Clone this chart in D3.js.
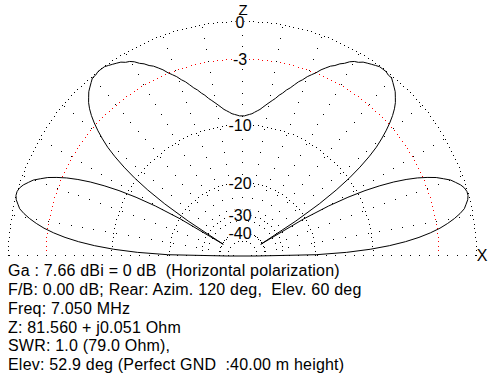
<!DOCTYPE html>
<html><head><meta charset="utf-8">
<script src="https://cdn.jsdelivr.net/npm/d3@7/dist/d3.min.js"></script>
<style>html,body{margin:0;padding:0;background:#fff;} svg{display:block;} text{font-family:"Liberation Sans",Arial,sans-serif;}</style>
</head><body>
<svg id="c" width="492" height="384"></svg>
<script>
// Elevation angle (deg, from the right horizon) for one half of the symmetric pattern
const elevationDeg = [0,1,2,3,4,5,6,7,8,9,10,11,12,13,14,15,16,17,18,19,20,21,22,23,24,25,26,27,28,29,30,
  31,32,33,34,35,36,37,38,39,40,41,42,43,44,45,46,47,48,49,50,51,52,53,54,55,56,57,58,59,60,
  61,62,63,64,65,66,67,68,69,70,71,72,73,74,75,76,77,78,79,80,81,82,83,84,85,86,87,88,89,90];
// Relative gain (dB)
const gainDb = [-48,-19.7,-13.8,-10.3,-7.9,-6.1,-4.7,-3.6,-2.7,-2.0,-1.4,-0.9,-0.5,-0.3,-0.1,0.0,0.0,-0.1,-0.3,-0.6,-0.9,
  -1.4,-1.9,-2.6,-3.4,-4.4,-5.6,-7.1,-8.9,-11.3,-14.6,
  -20.2,-40.5,-22.2,-15.8,-12.2,-9.7,-7.9,-6.4,-5.2,-4.3,
  -3.5,-2.8,-2.2,-1.7,-1.3,-1.0,-0.7,-0.5,-0.3,-0.1,
  -0.1,0.0,0.0,0.0,-0.1,-0.2,-0.3,-0.4,-0.6,-0.7,
  -0.9,-1.2,-1.4,-1.7,-1.9,-2.2,-2.5,-2.9,-3.2,-3.5,
  -3.9,-4.2,-4.6,-5.0,-5.3,-5.7,-6.0,-6.4,-6.7,-7.0,
  -7.3,-7.6,-7.9,-8.1,-8.3,-8.5,-8.6,-8.7,-8.8,-8.8];
const ringDb = [0,-3,-10,-20,-30,-40,-48];
const ringColor = ["#000","#f00","#000","#000","#000","#000","#000"];
const ringLabels = ["0","-3","-10","-20","-30","-40"];
const spokeDeg = [10,20,30,40,50,60,70,80,90,100,110,120,130,140,150,160,170];
const infoLines = [
  "Ga : 7.66 dBi = 0 dB  (Horizontal polarization)",
  "F/B: 0.00 dB; Rear: Azim. 120 deg,  Elev. 60 deg",
  "Freq: 7.050 MHz",
  "Z: 81.560 + j0.051 Ohm",
  "SWR: 1.0 (79.0 Ohm),",
  "Elev: 52.9 deg (Perfect GND  :40.00 m height)"
];

const cx = 242, cy = 256, R = 234;
const svg = d3.select("#c");
const amp = d3.scaleLinear().domain([0, 1]).range([0, R]);
const rOf = db => amp(Math.pow(0.89, -db / 2));          // ARRL log scale
const ang = d3.scaleLinear().domain([0, 180]).range([Math.PI / 2, -Math.PI / 2]);

const g = svg.append("g").attr("transform", `translate(${cx},${cy})`);
const dots = [];
// rings
ringDb.forEach((db, i) => {
  const r = rOf(db);
  const n = Math.max(4, Math.round(Math.PI * r / 4.5));
  for (let j = 0; j <= n; j++) {
    const p = d3.pointRadial(ang(180 * j / n), r);
    dots.push({x: p[0], y: p[1], c: ringColor[i]});
  }
});
// spokes
spokeDeg.forEach(s => {
  for (let r = 11.6 * 2; r <= R - 1; r += 11.6) {
    const p = d3.pointRadial(ang(s), r);
    dots.push({x: p[0], y: p[1], c: "#000"});
  }
});
// baseline
for (let r = 9.33; r <= R; r += 9.33) {
  [0, 180].forEach(s => {
    const p = d3.pointRadial(ang(s), r);
    dots.push({x: p[0], y: p[1], c: "#000"});
  });
}
g.append("g").selectAll("rect").data(dots).join("rect")
  .attr("x", d => Math.round(d.x)).attr("y", d => Math.round(d.y) - 1)
  .attr("width", 1).attr("height", 1).attr("fill", d => d.c)
  .attr("shape-rendering", "crispEdges");

// ring labels
const lab = g.append("g");
ringLabels.forEach((t, i) => {
  const y = -rOf(ringDb[i]);
  const tx = lab.append("text").attr("x", -2).attr("y", y + 5.6)
    .attr("text-anchor", "middle").attr("font-size", 16).attr("fill", "#000").text(t);
  const bb = tx.node().getBBox();
  lab.insert("rect", () => tx.node()).attr("x", bb.x).attr("y", y - 6).attr("width", bb.width)
    .attr("height", 12).attr("fill", "#fff");
});

// pattern
const pts = elevationDeg.map((e, i) => ({el: e, db: gainDb[i]}));
const full = pts.concat(pts.slice(0, -1).reverse().map(d => ({el: 180 - d.el, db: d.db})));
const line = d3.lineRadial().angle(d => ang(d.el)).radius(d => rOf(d.db)).curve(d3.curveLinearClosed);
g.append("path").attr("d", line(full)).attr("fill", "none").attr("stroke", "#000").attr("stroke-width", 1);

// axis letters
svg.append("text").attr("x", 243).attr("y", 14.5).attr("text-anchor", "middle").attr("font-size", 15).text("Z");
svg.append("text").attr("x", 482).attr("y", 261).attr("text-anchor", "middle").attr("font-size", 16).text("X");

// info text
svg.append("g").selectAll("text").data(infoLines).join("text")
  .attr("x", 8).attr("y", (d, i) => 276 + 18.85 * i)
  .attr("font-size", 16).attr("letter-spacing", 0.2).attr("fill", "#000").style("white-space", "pre").text(d => d);
</script>
</body></html>
